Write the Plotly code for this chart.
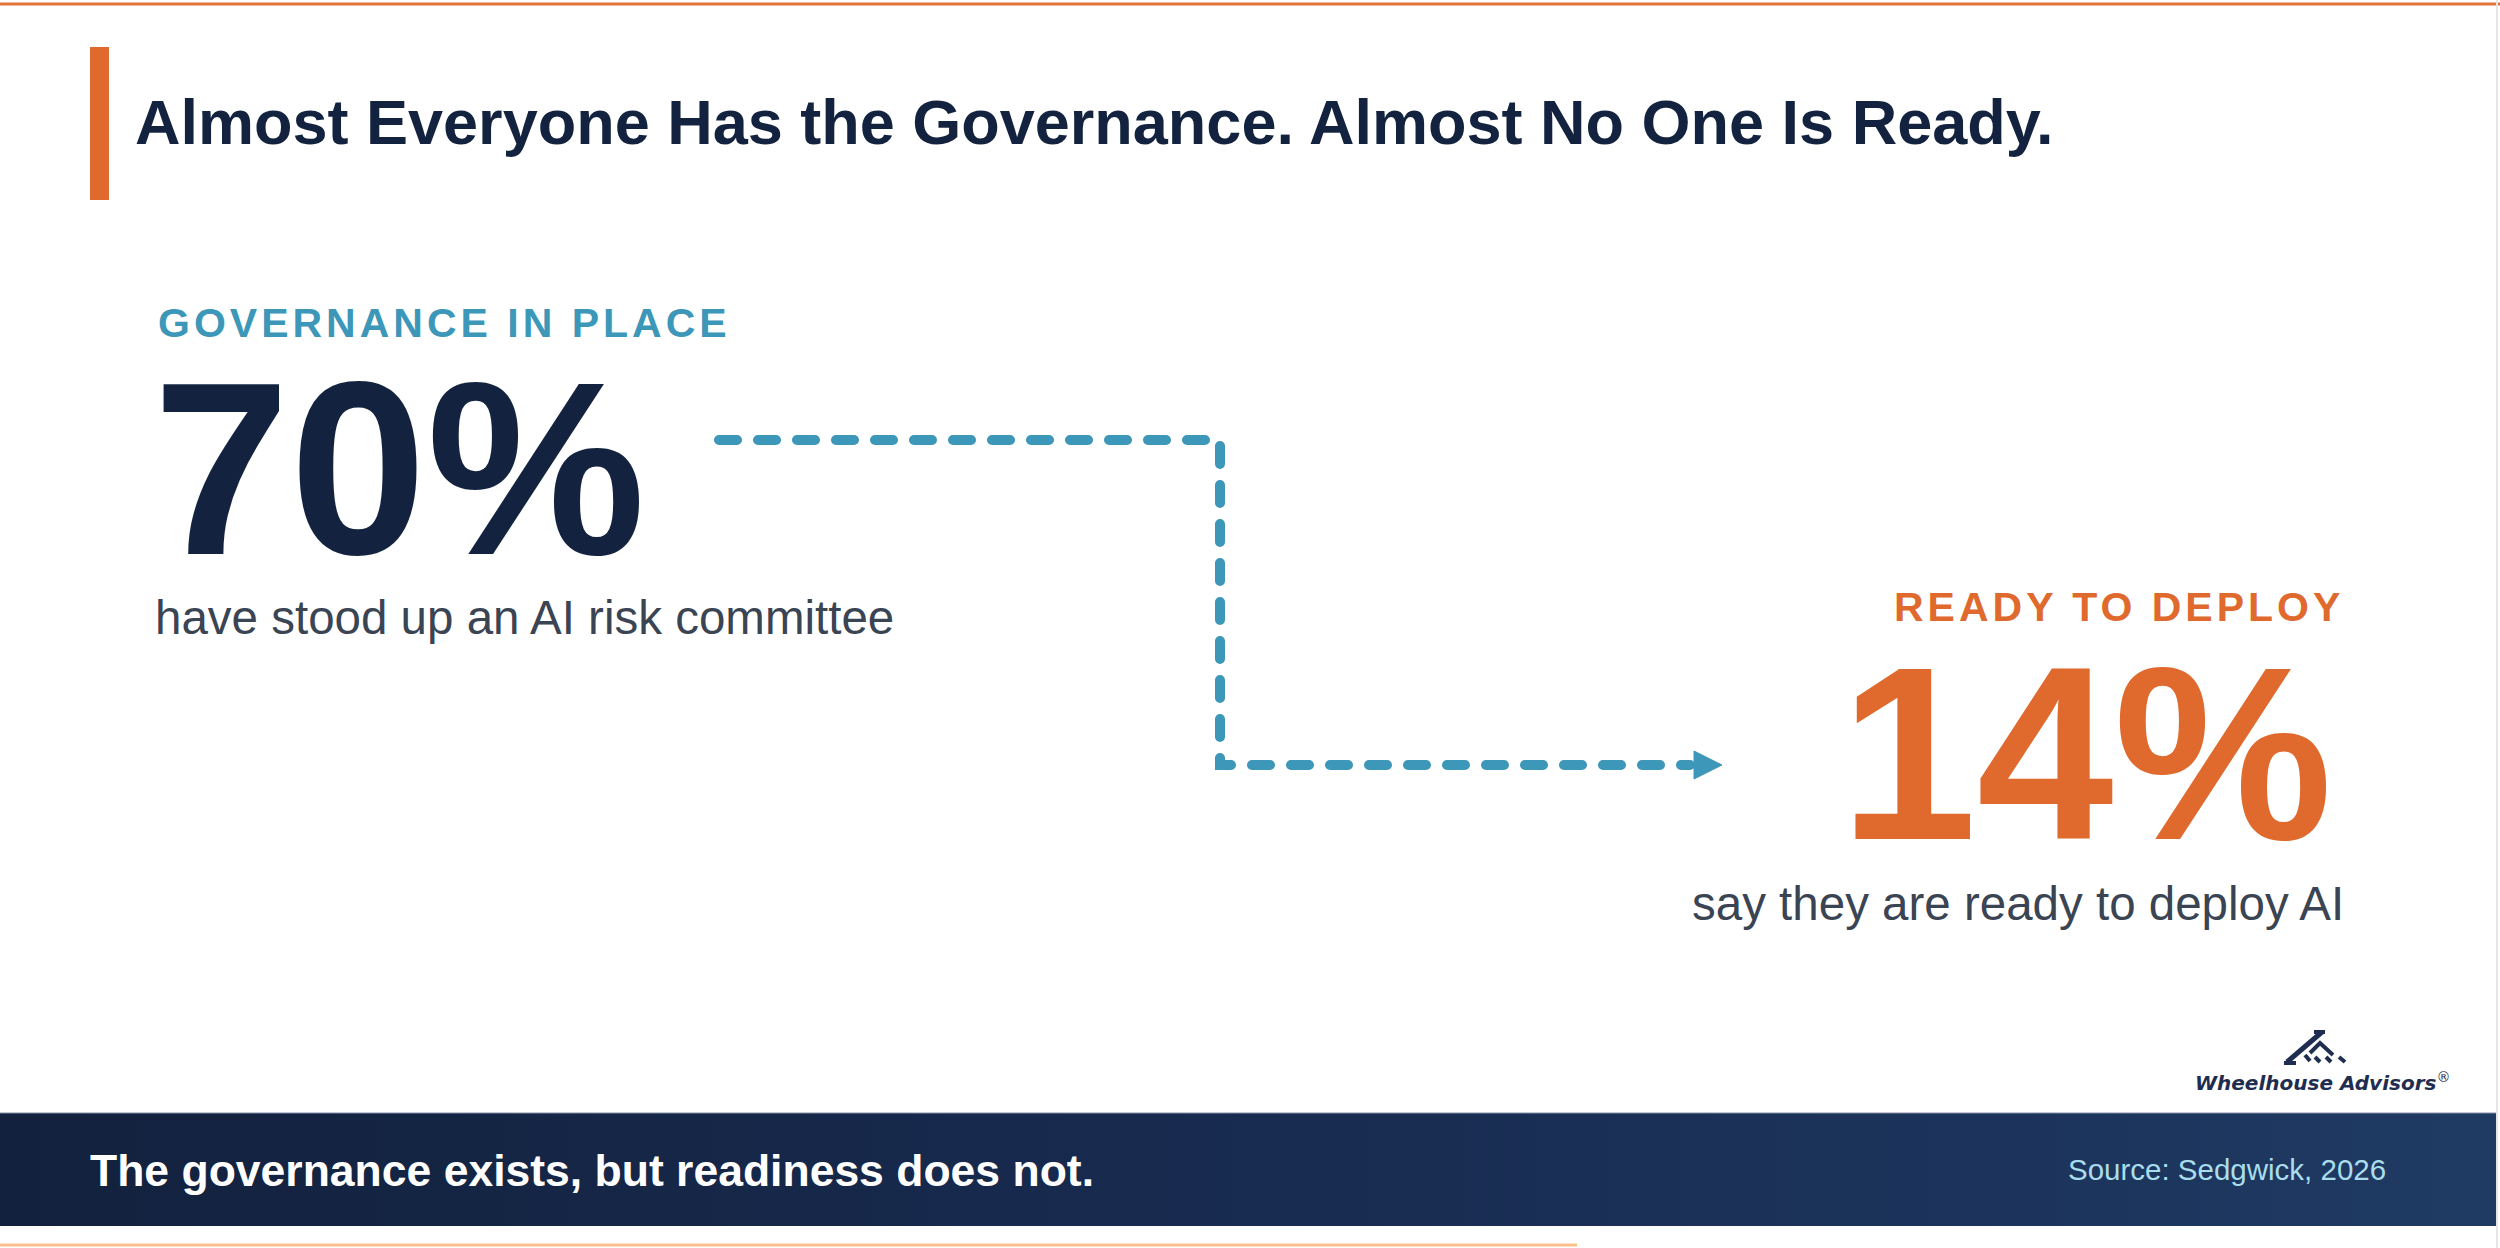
import plotly.graph_objects as go

# chart content
title = "Almost Everyone Has the Governance. Almost No One Is Ready."
stat_labels = ["GOVERNANCE IN PLACE", "READY TO DEPLOY"]
stat_values = [70, 14]
stat_captions = ["have stood up an AI risk committee", "say they are ready to deploy AI"]
takeaway = "The governance exists, but readiness does not."
source = "Source: Sedgwick, 2026"
brand = "Wheelhouse Advisors"

W, H = 2500, 1248
NAVY = "#13233F"
TEAL = "#3C97B8"
ORANGE = "#E06A2D"
GREY = "#3A4453"
FONT = "Liberation Sans, Arial, sans-serif"

fig = go.Figure()

# bottom band with horizontal gradient
fig.add_trace(go.Scatter(
    x=[0, 2496, 2496, 0, 0], y=[1113, 1113, 1226, 1226, 1113],
    mode="lines", line=dict(width=0), fill="toself",
    fillgradient=dict(type="horizontal",
                      colorscale=[[0, "#12213D"], [0.5, "#182B50"], [1, "#1F3A63"]]),
    hoverinfo="skip", showlegend=False,
))

shapes = [
    # top accent line
    dict(type="line", x0=0, x1=W, y0=4, y1=4, line=dict(color="#E2743A", width=3)),
    # title bar
    dict(type="rect", x0=90, x1=109, y0=47, y1=200, fillcolor="#E06A2E", line=dict(width=0)),
    # band edge
    dict(type="line", x0=0, x1=2496, y0=1113, y1=1113, line=dict(color="#8390A6", width=1)),
    # bottom progress accent
    dict(type="line", x0=0, x1=1577, y0=1245, y1=1245, line=dict(color="#F9C08B", width=3)),
    # right frame edge
    dict(type="line", x0=2497, x1=2497, y0=0, y1=H, line=dict(color="#E6E6E6", width=2)),
    # connector
    dict(type="path", path="M 719,440 H 1220 V 765 H 1690",
         line=dict(color=TEAL, width=10, dash="18px,21px")),
    dict(type="path", path="M 1694,751 L 1722,765 L 1694,779 Z",
         fillcolor=TEAL, line=dict(color=TEAL, width=1)),
]

# logo mark
logo_col = "#1F2E50"
logo_paths = [
    ("M 2287,1062 L 2322,1032", 5),
    ("M 2284,1063 L 2296,1063", 4),
    ("M 2314,1032 L 2325,1032", 4),
    ("M 2310,1053 L 2320,1043 L 2333,1055", 4),
    ("M 2305,1055 L 2310,1061", 4),
    ("M 2315,1057 L 2320,1062", 4),
    ("M 2326,1057 L 2331,1062", 4),
    ("M 2339,1057 L 2345,1062", 4),
]
for p, w in logo_paths:
    shapes.append(dict(type="path", path=p, line=dict(color=logo_col, width=w)))

ann = []
ann.append(dict(x=133, y=122, text="<b>%s</b>" % title, xanchor="left", yanchor="middle",
                font=dict(family=FONT, size=63, color=NAVY)))

spaced = '<span style="letter-spacing:4px"><b>%s</b></span>'
# left stat
ann.append(dict(x=156, y=323, text=spaced % stat_labels[0], xanchor="left", yanchor="middle",
                font=dict(family=FONT, size=41, color=TEAL)))
ann.append(dict(x=151, y=468, text="<b>%d%%</b>" % stat_values[0], xanchor="left", yanchor="middle",
                font=dict(family=FONT, size=246, color=NAVY)))
ann.append(dict(x=153, y=617, text=stat_captions[0], xanchor="left", yanchor="middle",
                font=dict(family=FONT, size=47.5, color=GREY)))
# right stat
ann.append(dict(x=2346, y=607, text=spaced % stat_labels[1], xanchor="right", yanchor="middle",
                font=dict(family=FONT, size=41, color=ORANGE)))
ann.append(dict(x=2334, y=753, text="<b>%d%%</b>" % stat_values[1], xanchor="right", yanchor="middle",
                font=dict(family=FONT, size=246, color=ORANGE)))
ann.append(dict(x=2346, y=903, text=stat_captions[1], xanchor="right", yanchor="middle",
                font=dict(family=FONT, size=47.5, color=GREY)))
# band texts
ann.append(dict(x=88, y=1170, text="<b>%s</b>" % takeaway, xanchor="left", yanchor="middle",
                font=dict(family=FONT, size=44.5, color="#FFFFFF")))
ann.append(dict(x=2066, y=1169, text=source, xanchor="left", yanchor="middle",
                font=dict(family=FONT, size=29.5, color="#A9DDEC")))
# brand name
ann.append(dict(x=2452, y=1082, text="<b><i>%s</i></b><sup>®</sup>" % brand, xanchor="right",
                yanchor="middle", font=dict(family="DejaVu Sans, sans-serif", size=20, color=logo_col)))

for a in ann:
    a.update(xref="x", yref="y", showarrow=False)

fig.update_layout(
    width=W, height=H, autosize=False,
    margin=dict(l=0, r=0, t=0, b=0),
    paper_bgcolor="white", plot_bgcolor="white",
    xaxis=dict(range=[0, W], visible=False, fixedrange=True),
    yaxis=dict(range=[H, 0], visible=False, fixedrange=True),
    shapes=shapes, annotations=ann, showlegend=False,
)

# page without body margin, rounded dash ends on the connector
page_fix = """
document.body.style.margin = '0';
document.body.style.overflow = 'hidden';
document.querySelectorAll('.shapelayer path').forEach(function(p){
  var d = p.style.strokeDasharray;
  if (d && d !== 'none') { p.style.strokeLinecap = 'round'; }
});
"""

fig.write_html("out.html", config={"displayModeBar": False}, post_script=page_fix)
